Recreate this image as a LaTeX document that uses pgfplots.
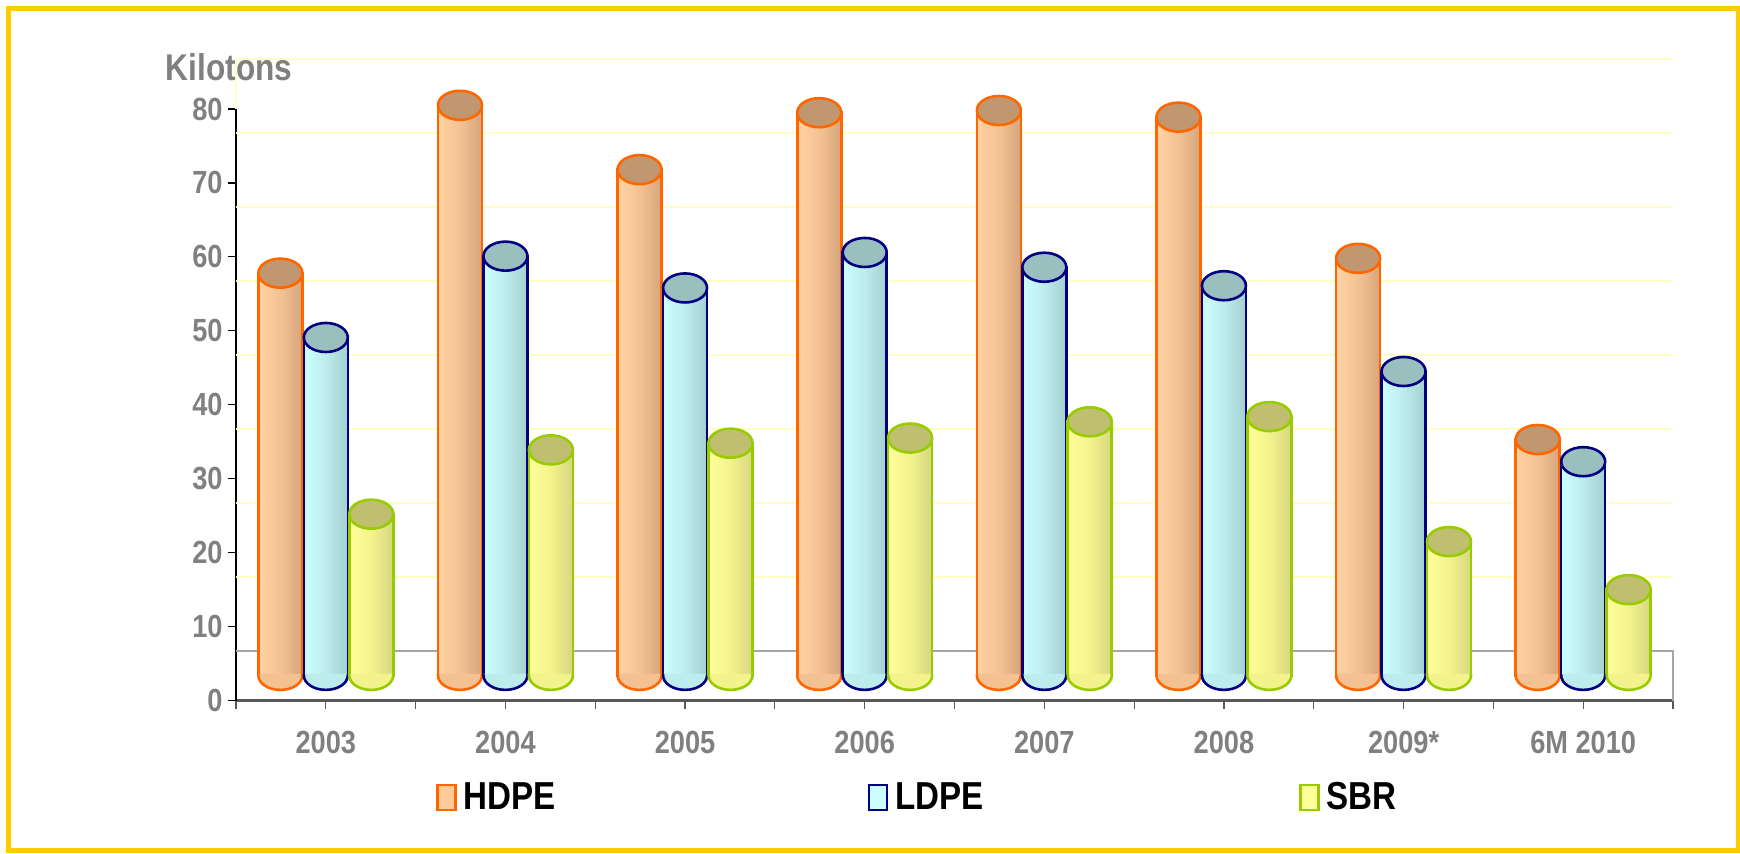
\documentclass[border=0pt]{standalone}
\usepackage{pgfplots}
\pgfplotsset{compat=1.18}
\usepackage{pgfplotstable}
\usepackage{fontspec}
\setmainfont{Liberation Sans}[FakeStretch=0.85]

\definecolor{hdpeline}{HTML}{FF6600}
\definecolor{hdpeL}{HTML}{FFD3A4}
\definecolor{hdpeM}{HTML}{F4C292}
\definecolor{hdpeR}{HTML}{D6A47C}
\definecolor{hdpetop}{HTML}{C0976F}
\definecolor{hdpefill}{HTML}{FFCC99}
\definecolor{ldpeline}{HTML}{000080}
\definecolor{ldpeL}{HTML}{CCFFFF}
\definecolor{ldpeM}{HTML}{BDECEC}
\definecolor{ldpeR}{HTML}{A3CFCF}
\definecolor{ldpetop}{HTML}{99BFBF}
\definecolor{ldpefill}{HTML}{CCFFFF}
\definecolor{sbrline}{HTML}{99CC00}
\definecolor{sbrL}{HTML}{FFFF99}
\definecolor{sbrM}{HTML}{F3F38D}
\definecolor{sbrR}{HTML}{D6D680}
\definecolor{sbrtop}{HTML}{BFBF6F}
\definecolor{sbrfill}{HTML}{FFFF99}
\definecolor{tickgray}{HTML}{808080}
\definecolor{axisgray}{HTML}{595959}
\definecolor{floorgray}{HTML}{A6A6A6}
\definecolor{gridyellow}{HTML}{FFFFC4}
\definecolor{framecol}{HTML}{FFCC00}

\pgfdeclareplotmark{cyltop}{%
  \pgfpathellipse{\pgfpointorigin}{\pgfqpoint{\pgfplotmarksize}{0pt}}{\pgfqpoint{0pt}{0.66\pgfplotmarksize}}%
  \pgfusepathqfillstroke}
\pgfdeclareplotmark{cylbottom}{%
  \pgfpathmoveto{\pgfqpoint{-\pgfplotmarksize}{0.7pt}}%
  \pgfpathlineto{\pgfqpoint{-\pgfplotmarksize}{0pt}}%
  \pgfpatharc{180}{360}{\pgfplotmarksize and 0.66\pgfplotmarksize}%
  \pgfpathlineto{\pgfqpoint{\pgfplotmarksize}{0.7pt}}%
  \pgfpathclose
  \pgfusepathqfill
  \pgfpathmoveto{\pgfqpoint{-\pgfplotmarksize}{0.7pt}}%
  \pgfpathlineto{\pgfqpoint{-\pgfplotmarksize}{0pt}}%
  \pgfpatharc{180}{360}{\pgfplotmarksize and 0.66\pgfplotmarksize}%
  \pgfpathlineto{\pgfqpoint{\pgfplotmarksize}{0.7pt}}%
  \pgfusepathqstroke}

% values in kilotons (measured from the floor of the 3D plot)
\pgfplotstableread{
idx hdpe ldpe sbr
0 54.4 45.7 21.8
1 77.1 56.7 30.5
2 68.4 52.4 31.4
3 76.1 57.2 32.1
4 76.4 55.2 34.3
5 75.5 52.7 35.0
6 56.4 41.1 18.1
7 31.9 28.9 11.6
}\datatable

% one cylinder series: #1 column, #2 x offset, #3 colour prefix
\newcommand{\cylseries}[3]{%
  \pgfplotsinvokeforeach{-0.5:0.5,0.5:1.5,1.5:2.5,2.5:3.5,3.5:4.5,4.5:5.5,5.5:6.5,6.5:7.5}{%
    \addplot[forget plot, ybar, bar width=0.245, bar shift=0pt, draw=#3line, line width=1.3pt,
      left color=#3L, right color=#3R, middle color=#3M,
      restrict x to domain=##1]
      table[x expr={\thisrow{idx}+(#2)}, y=#1] {\datatable};
  }
  \addplot[only marks, forget plot, mark=cylbottom, mark size=11pt,
    mark options={draw=#3line, fill=#3M, line width=1.3pt}]
    table[x expr={\thisrow{idx}+(#2)}, y expr=0] {\datatable};
  \addplot[only marks, forget plot, mark=cyltop, mark size=11pt,
    mark options={draw=#3line, fill=#3top, line width=1.3pt}]
    table[x expr={\thisrow{idx}+(#2)}, y=#1] {\datatable};
}

\begin{document}
\begin{tikzpicture}
\useasboundingbox (-118pt,-76.25pt) rectangle (752pt,350.25pt);
\draw[framecol, line width=2.5pt] (-113.75pt,-74.75pt) rectangle (751.25pt,346pt);

% ---------- main axis: scale, grid, floor ----------
\begin{axis}[
  at={(0,0)}, anchor=south west,
  width=718.5pt, height=295.75pt, scale only axis,
  xmin=-0.5, xmax=7.5, ymin=0, ymax=80,
  clip=false,
  axis x line*=bottom, axis y line*=left,
  x axis line style={draw=axisgray, line width=1.5pt},
  y axis line style={draw=black, line width=0.6pt},
  tick align=outside,
  major tick length=4.2pt,
  xtick={-0.5,0.5,...,7.5}, xticklabels={},
  x tick style={draw=axisgray, line width=0.6pt},
  y tick style={draw=black, line width=0.6pt},
  ytick={0,10,...,80},
  minor tick num=0,
  extra x ticks={0,1,2,3,4,5,6,7},
  extra x tick labels={2003,2004,2005,2006,2007,2008,2009*,6M 2010},
  extra x tick style={tick style={draw=none}},
  /pgf/number format/assume math mode=true,
  tick label style={font=\fontsize{16}{16}\selectfont\bfseries, text=tickgray},
  yticklabel style={anchor=east, inner sep=0pt, xshift=-2.3pt},
  xticklabel style={anchor=north, inner sep=0pt, yshift=-10.8pt},
]
  % back wall gridlines (3D back wall is offset 6.73 units upward)
  \foreach \g in {16.73,26.73,36.73,46.73,56.73,66.73,76.73,86.73}{
    \edef\tmp{\noexpand\draw[gridyellow, line width=0.8pt] (axis cs:-0.5,\g) -- (axis cs:7.5,\g);}\tmp
  }
  \draw[gridyellow, line width=0.8pt] (axis cs:-0.5,80) -- (axis cs:-0.5,86.73);
  % floor
  \draw[floorgray, line width=0.8pt] (axis cs:-0.5,6.73) -- (axis cs:7.5,6.73) -- (axis cs:7.5,0);
  \node[anchor=base, font=\fontsize{18.6}{18.6}\selectfont\bfseries, text=tickgray, inner sep=0pt]
    at (axis cs:-0.539,83.92) {Kilotons};
\end{axis}

% ---------- overlay axis: cylinders ----------
\begin{axis}[
  at={(0,0)}, anchor=south west,
  width=718.5pt, height=295.75pt, scale only axis,
  xmin=-0.5, xmax=7.5, ymin=-3.4, ymax=76.6,
  clip=false, hide axis,
  legend columns=3,
  legend style={at={(rel axis cs:0.1392,-0.164)}, anchor=west, draw=none, fill=none,
    inner sep=0pt, font=\fontsize{19.5}{19.5}\selectfont\bfseries,
    /tikz/every odd column/.append style={column sep=1.5pt}},
  legend cell align=left,
]
  \cylseries{hdpe}{-0.253}{hdpe}
  \cylseries{ldpe}{0}{ldpe}
  \cylseries{sbr}{0.253}{sbr}

  \addlegendimage{legend image code/.code={\draw[draw=hdpeline, fill=hdpefill, line width=1.2pt] (0pt,-6.25pt) rectangle (9pt,6.25pt);}}
  \addlegendentry{\makebox[200pt][l]{HDPE}}
  \addlegendimage{legend image code/.code={\draw[draw=ldpeline, fill=ldpefill, line width=1.2pt] (0pt,-6.25pt) rectangle (9pt,6.25pt);}}
  \addlegendentry{\makebox[200pt][l]{LDPE}}
  \addlegendimage{legend image code/.code={\draw[draw=sbrline, fill=sbrfill, line width=1.2pt] (0pt,-6.25pt) rectangle (9pt,6.25pt);}}
  \addlegendentry{SBR}
\end{axis}
\end{tikzpicture}
\end{document}
